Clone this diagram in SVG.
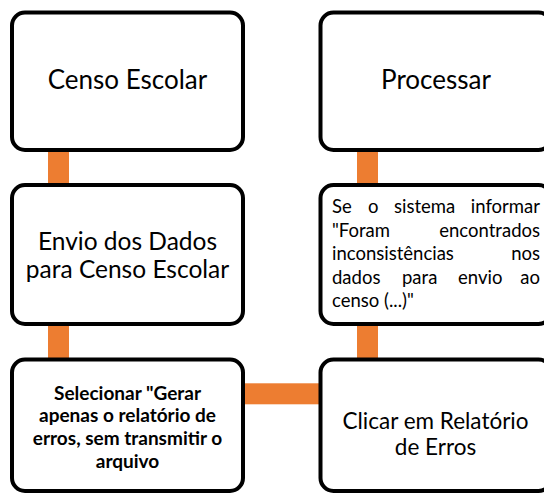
<svg xmlns="http://www.w3.org/2000/svg" width="544" height="495" viewBox="0 0 544 495">
<style>
.box{fill:#fff;stroke:#000;stroke-width:4}
.con{fill:#ED7D31}
text{font-family:Lato,"Liberation Sans",sans-serif;fill:#000}
.big{font-size:26px;text-anchor:middle}
.mid{font-size:24.5px;text-anchor:middle}
.med{font-size:22.5px;text-anchor:middle}
.bold{font-size:19px;font-weight:bold;text-anchor:middle}
.sm{font-size:18.5px}
.end{text-anchor:end}
</style>
<rect width="544" height="495" fill="#fff"/>
<g id="connectors">
<rect class="con" x="48" y="148" width="21" height="39"/>
<rect class="con" x="357" y="148" width="21" height="39"/>
<rect class="con" x="48" y="322" width="21" height="39"/>
<rect class="con" x="357" y="322" width="21" height="39"/>
<rect class="con" x="241" y="383.3" width="81" height="21"/>
</g>
<g id="n1">
<rect class="box" x="12" y="12.5" width="231" height="137.5" rx="13"/>
<text class="big" x="127.5" y="89">Censo Escolar</text>
</g>
<g id="n2">
<rect class="box" x="12" y="185" width="231" height="139" rx="13"/>
<text class="mid" x="127.5" y="249.5">Envio dos Dados</text>
<text class="mid" x="127.5" y="277.5">para Censo Escolar</text>
</g>
<g id="n3">
<rect class="box" x="12" y="359.5" width="231" height="131.5" rx="13"/>
<text class="bold" x="127.5" y="399.5">Selecionar "Gerar</text>
<text class="bold" x="127.5" y="422.3">apenas o relatório de</text>
<text class="bold" x="127.5" y="445.1">erros, sem transmitir o</text>
<text class="bold" x="127.5" y="467.9">arquivo</text>
</g>
<g id="n4">
<rect class="box" x="320.5" y="12.5" width="231" height="137.5" rx="13"/>
<text class="big" x="436" y="89">Processar</text>
</g>
<g id="n5">
<rect class="box" x="320.5" y="185" width="231" height="139" rx="13"/>
<text class="sm" y="213"><tspan x="332">Se</tspan><tspan x="368">o</tspan><tspan x="394">sistema</tspan></text>
<text class="sm end" x="540" y="213">informar</text>
<text class="sm" x="332" y="236.5">"Foram</text>
<text class="sm end" x="540" y="236.5">encontrados</text>
<text class="sm" x="332" y="260">inconsistências</text>
<text class="sm end" x="540" y="260">nos</text>
<text class="sm" y="283.5"><tspan x="332">dados</tspan><tspan x="402">para</tspan><tspan x="458">envio</tspan></text>
<text class="sm end" x="540" y="283.5">ao</text>
<text class="sm" x="332" y="307">censo (...)"</text>
</g>
<g id="n6">
<rect class="box" x="320.5" y="359.5" width="231" height="131.5" rx="13"/>
<text class="med" x="435.5" y="429.3">Clicar em Relatório</text>
<text class="med" x="435.5" y="455">de Erros</text>
</g>
</svg>
